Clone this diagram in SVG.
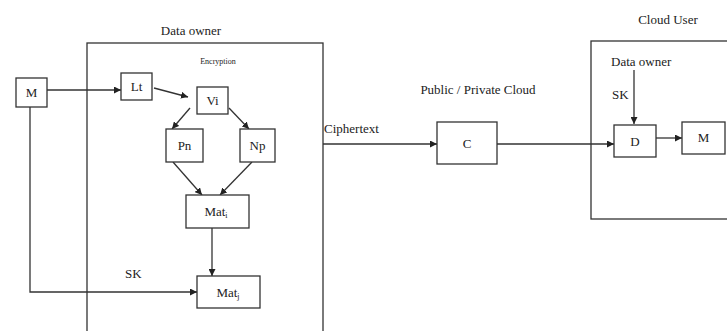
<svg xmlns="http://www.w3.org/2000/svg" width="727" height="331" viewBox="0 0 727 331">
<style>
.box{fill:#fff;stroke:#333;stroke-width:1.3}
.frame{fill:none;stroke:#333;stroke-width:1.3}
.ln{fill:none;stroke:#333;stroke-width:1.3}
.t{font-family:'Liberation Serif','Times New Roman',serif;font-size:13px;fill:#222}
.c{text-anchor:middle}
.s{font-size:8px}
.sub{font-size:8px}
</style>
<defs>
<marker id="ah" viewBox="0 0 10 10" refX="10" refY="5" markerWidth="7" markerHeight="7" orient="auto" markerUnits="userSpaceOnUse">
<path d="M0,0 L10,5 L0,10 z" fill="#222"/>
</marker>
</defs>
<rect width="727" height="331" fill="#fff"/>
<g id="data-owner-frame">
<rect class="frame" x="87" y="43" width="236" height="300"/>
<text class="t c" x="191" y="35">Data owner</text>
<text class="t c s" x="218" y="64">Encryption</text>
</g>
<g id="cloud-user-frame">
<rect class="frame" x="591" y="41" width="150" height="178"/>
<text class="t c" x="668" y="24">Cloud User</text>
<text class="t" x="611" y="66">Data owner</text>
<text class="t" x="612" y="99">SK</text>
</g>
<text class="t c" x="478" y="94">Public / Private Cloud</text>
<text class="t" x="324" y="133">Ciphertext</text>
<text class="t" x="125" y="278">SK</text>
<g id="connectors">
<line class="ln" x1="47" y1="90" x2="121" y2="90" marker-end="url(#ah)"/>
<line class="ln" x1="154" y1="88" x2="188" y2="97" marker-end="url(#ah)"/>
<line class="ln" x1="190" y1="108" x2="172" y2="129" marker-end="url(#ah)"/>
<line class="ln" x1="229" y1="108" x2="249" y2="129" marker-end="url(#ah)"/>
<line class="ln" x1="173" y1="162" x2="202" y2="195" marker-end="url(#ah)"/>
<line class="ln" x1="252" y1="162" x2="220" y2="195" marker-end="url(#ah)"/>
<line class="ln" x1="212" y1="228" x2="212" y2="276" marker-end="url(#ah)"/>
<polyline class="ln" points="30,107 30,292 197,292" marker-end="url(#ah)"/>
<line class="ln" x1="323" y1="144" x2="437" y2="144" marker-end="url(#ah)"/>
<line class="ln" x1="497" y1="144" x2="614" y2="144" marker-end="url(#ah)"/>
<line class="ln" x1="656" y1="138" x2="682" y2="138" marker-end="url(#ah)"/>
<line class="ln" x1="634" y1="70" x2="634" y2="124" marker-end="url(#ah)"/>
</g>
<g id="node-M"><rect class="box" x="16" y="78" width="31" height="29"/><text class="t c" x="31.5" y="97">M</text></g>
<g id="node-Lt"><rect class="box" x="121" y="73" width="31" height="27"/><text class="t c" x="136.5" y="91">Lt</text></g>
<g id="node-Vi"><rect class="box" x="197" y="87" width="31" height="27"/><text class="t c" x="212.5" y="105">Vi</text></g>
<g id="node-Pn"><rect class="box" x="166" y="129" width="37" height="33"/><text class="t c" x="184.5" y="150">Pn</text></g>
<g id="node-Np"><rect class="box" x="240" y="129" width="35" height="33"/><text class="t c" x="257.5" y="150">Np</text></g>
<g id="node-Mati"><rect class="box" x="186" y="195" width="63" height="33"/><text class="t c" x="216" y="216">Mat<tspan class="sub" dy="2">i</tspan></text></g>
<g id="node-Matj"><rect class="box" x="197" y="276" width="63" height="32"/><text class="t c" x="228" y="297">Mat<tspan class="sub" dy="2">j</tspan></text></g>
<g id="node-C"><rect class="box" x="437" y="122" width="60" height="42"/><text class="t c" x="467" y="148">C</text></g>
<g id="node-D"><rect class="box" x="614" y="125" width="42" height="32"/><text class="t c" x="635" y="146">D</text></g>
<g id="node-M2"><rect class="box" x="682" y="122" width="43" height="32"/><text class="t c" x="703.5" y="142">M</text></g>
</svg>
